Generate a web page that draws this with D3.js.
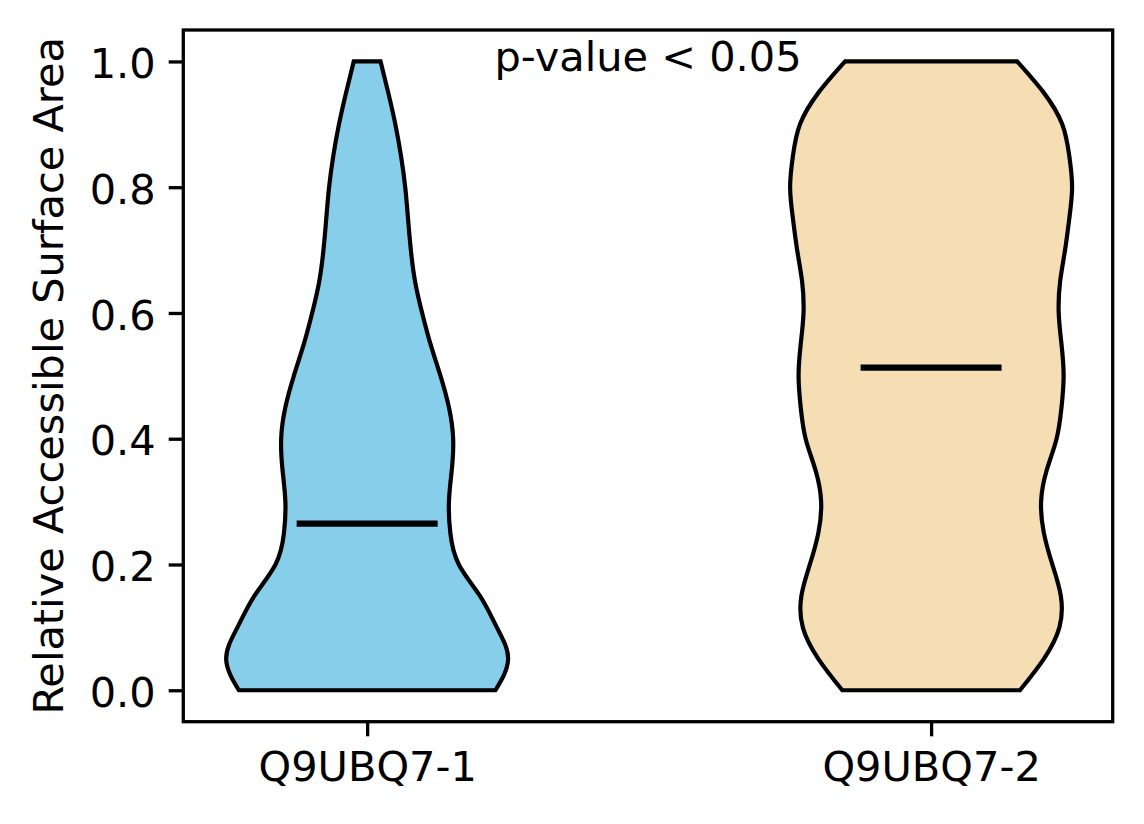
<!DOCTYPE html>
<html>
<head>
<meta charset="utf-8">
<script src="https://cdn.jsdelivr.net/npm/d3@7"></script>
<style>
  body { margin: 0; background: #fff; }
  svg { display: block; }
  text { font-family: "DejaVu Sans", sans-serif; fill: #000; }
</style>
</head>
<body>
<svg id="chart" width="1144" height="824"></svg>
<script>
// groups and summary values
const groups = ["Q9UBQ7-1", "Q9UBQ7-2"];
const positions = [1, 2];
const colors = ["#87CEEB", "#F5DEB3"];
const medians = [0.265, 0.513];

// kde evaluated on a grid of rsa values (relative half width, max = 1)
const grid = [0, 0.05, 0.1, 0.15, 0.2, 0.25, 0.3, 0.35, 0.4, 0.45, 0.5,
              0.55, 0.6, 0.65, 0.7, 0.75, 0.8, 0.85, 0.9, 0.95, 1.0];
const density1 = [0.91, 1.00, 0.92, 0.80, 0.65, 0.59, 0.58, 0.60, 0.61, 0.58, 0.52,
                  0.45, 0.39, 0.34, 0.31, 0.29, 0.27, 0.24, 0.20, 0.15, 0.095];
const density2 = [0.63, 0.80, 0.91, 0.92, 0.86, 0.80, 0.78, 0.82, 0.89, 0.925, 0.94,
                  0.925, 0.905, 0.915, 0.95, 0.98, 1.00, 0.98, 0.93, 0.80, 0.61];
const densities = [density1, density2];

const yTicks = [0, 0.2, 0.4, 0.6, 0.8, 1.0];
const annotation = "p-value < 0.05";
const yLabel = "Relative Accessible Surface Area";

const svg = d3.select("#chart");
const box = {left: 183.3, right: 1112.7, top: 30, bottom: 721.7};
const fontSize = 41.5, tickLen = 14.6;

const x = d3.scaleLinear().domain([0.674, 2.322]).range([box.left, box.right]);
const y = d3.scaleLinear().domain([-0.05, 1.05]).range([box.bottom, box.top]);
const halfWidth = 0.25; // widths = 0.5

groups.forEach((g, i) => {
  const pos = positions[i];
  const w = d3.scaleLinear().domain([0, 1]).range([0, halfWidth]);
  const pts = grid.map((v, j) => ({v, d: densities[i][j]}));
  const area = d3.area()
    .curve(d3.curveNatural)
    .y(d => y(d.v))
    .x0(d => x(pos - w(d.d)))
    .x1(d => x(pos + w(d.d)));
  svg.append("path")
    .datum(pts)
    .attr("d", area)
    .attr("fill", colors[i])
    .attr("stroke", "#000")
    .attr("stroke-width", 4.2)
    .attr("stroke-linejoin", "miter");

  svg.append("line")
    .attr("x1", x(pos - halfWidth / 2))
    .attr("x2", x(pos + halfWidth / 2))
    .attr("y1", y(medians[i]))
    .attr("y2", y(medians[i]))
    .attr("stroke", "#000")
    .attr("stroke-width", 6.25);
});

// axes
const yAxis = svg.append("g")
  .attr("transform", `translate(${box.left},0)`)
  .call(d3.axisLeft(y).tickValues(yTicks).tickFormat(d3.format(".1f"))
    .tickSize(tickLen).tickPadding(13));
const xAxis = svg.append("g")
  .attr("transform", `translate(0,${box.bottom})`)
  .call(d3.axisBottom(x).tickValues(positions).tickFormat((d, i) => groups[i])
    .tickSize(tickLen).tickPadding(13));

[yAxis, xAxis].forEach(a => {
  a.select(".domain").remove();
  a.selectAll(".tick line").attr("stroke", "#000").attr("stroke-width", 3.3);
  a.selectAll(".tick text")
    .attr("font-family", "DejaVu Sans")
    .attr("font-size", fontSize)
    .attr("fill", "#000");
});
yAxis.selectAll(".tick text").attr("dy", "0.39em");
xAxis.selectAll(".tick text").attr("dy", "0.76em");

svg.append("rect")
  .attr("x", box.left).attr("y", box.top)
  .attr("width", box.right - box.left)
  .attr("height", box.bottom - box.top)
  .attr("fill", "none")
  .attr("stroke", "#000")
  .attr("stroke-width", 3.3);

svg.append("text")
  .attr("x", (box.left + box.right) / 2)
  .attr("y", 71)
  .attr("text-anchor", "middle")
  .attr("font-size", fontSize)
  .text(annotation);

svg.append("text")
  .attr("transform", `translate(63,${(box.top + box.bottom) / 2}) rotate(-90)`)
  .attr("text-anchor", "middle")
  .attr("font-size", fontSize)
  .text(yLabel);
</script>
</body>
</html>
